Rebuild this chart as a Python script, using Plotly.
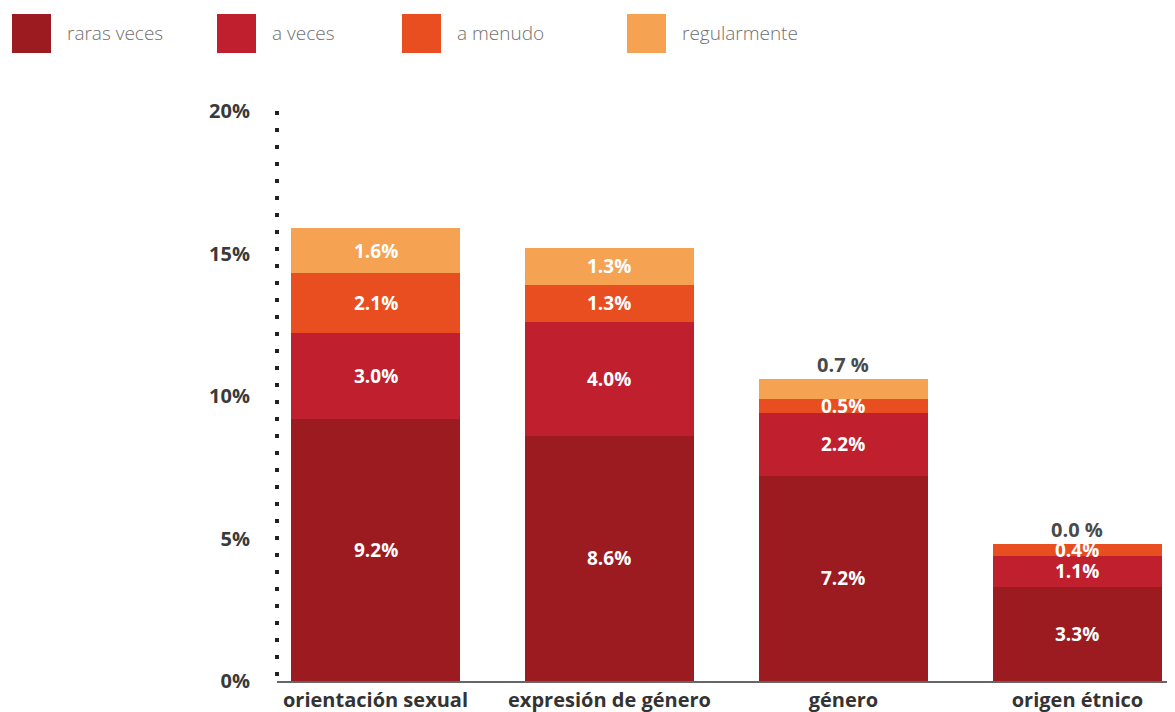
import plotly.graph_objects as go

# ---- data ----
categories = ["orientación sexual", "expresión de género", "género", "origen étnico"]
series_names = ["raras veces", "a veces", "a menudo", "regularmente"]
raras_veces = [9.2, 8.6, 7.2, 3.3]
a_veces = [3.0, 4.0, 2.2, 1.1]
a_menudo = [2.1, 1.3, 0.5, 0.4]
regularmente = [1.6, 1.3, 0.7, 0.0]
y_tick_vals = [0, 5, 10, 15, 20]
y_tick_text = ["0%", "5%", "10%", "15%", "20%"]

series_values = [raras_veces, a_veces, a_menudo, regularmente]
colors = ["#9B1B20", "#C01F2E", "#E84E1F", "#F6A253"]

OFF = 8  # page body margin
W, H = 1175 - OFF, 712 - OFF
ML, MR, MT, MB = 277 - OFF, 0, 111 - OFF, 31
PW, PH = W - ML - MR, H - MT - MB


def px_x(page_px):
    return (page_px - OFF - ML) / PW


def px_y(page_py):
    return (H - MB - (page_py - OFF)) / PH


fig = go.Figure()
for name, vals, col in zip(series_names, series_values, colors):
    fig.add_trace(go.Bar(
        x=categories, y=vals, name=name, marker=dict(color=col, line=dict(width=0)),
        width=0.72, showlegend=False, hoverinfo="x+y+name",
    ))

annotations = []
shapes = []
BOLD = "Open Sans"

# segment labels
for j, cat in enumerate(categories):
    base = 0.0
    total = sum(s[j] for s in series_values)
    for i, vals in enumerate(series_values):
        v = vals[j]
        is_top = i == len(series_values) - 1
        if is_top and v < 1.0:
            annotations.append(dict(
                x=cat, y=total, xref="x", yref="y", text=f"{v:.1f} %",
                showarrow=False, yanchor="bottom", yshift=-1,
                font=dict(family=BOLD, size=20, color="#4a4a4a", weight=700),
            ))
        else:
            annotations.append(dict(
                x=cat, y=base + v / 2, xref="x", yref="y", text=f"{v:.1f}%",
                showarrow=False,
                font=dict(family=BOLD, size=19, color="#ffffff", weight=700),
            ))
        base += v

# dotted y axis
shapes.append(dict(
    type="line", xref="paper", yref="y", x0=0, x1=0, y0=20, y1=0,
    line=dict(color="#222222", width=4, dash="4px,13px"), layer="above",
))

# legend (custom)
leg_sq_x = [12, 217, 402, 627]
for name, col, sx in zip(series_names, colors, leg_sq_x):
    shapes.append(dict(
        type="rect", xref="paper", yref="paper",
        x0=px_x(sx), x1=px_x(sx + 39), y0=px_y(53), y1=px_y(14),
        fillcolor=col, line=dict(width=0),
    ))
    annotations.append(dict(
        xref="paper", yref="paper", x=px_x(sx + 53), y=px_y(33),
        xanchor="left", yanchor="middle", text=name, showarrow=False,
        font=dict(family="Open Sans", size=19, color="#707070", weight=300),
    ))

fig.update_layout(
    barmode="stack",
    width=W, height=H,
    margin=dict(l=ML, r=MR, t=MT, b=MB, pad=0),
    plot_bgcolor="white", paper_bgcolor="white",
    annotations=annotations, shapes=shapes,
    xaxis=dict(
        range=[-0.421, 3.417], showgrid=False, zeroline=False,
        showline=True, linecolor="#666666", linewidth=2, ticks="",
        tickfont=dict(family=BOLD, size=20, color="#333333", weight=700),
        ticklabelstandoff=0,
    ),
    yaxis=dict(
        range=[0, 20], tickvals=y_tick_vals, ticktext=y_tick_text,
        showgrid=False, zeroline=False, showline=False, ticks="",
        tickfont=dict(family=BOLD, size=20, color="#3a3a3a", weight=700),
        ticklabelstandoff=26,
    ),
)

fig.write_html("out.html")
